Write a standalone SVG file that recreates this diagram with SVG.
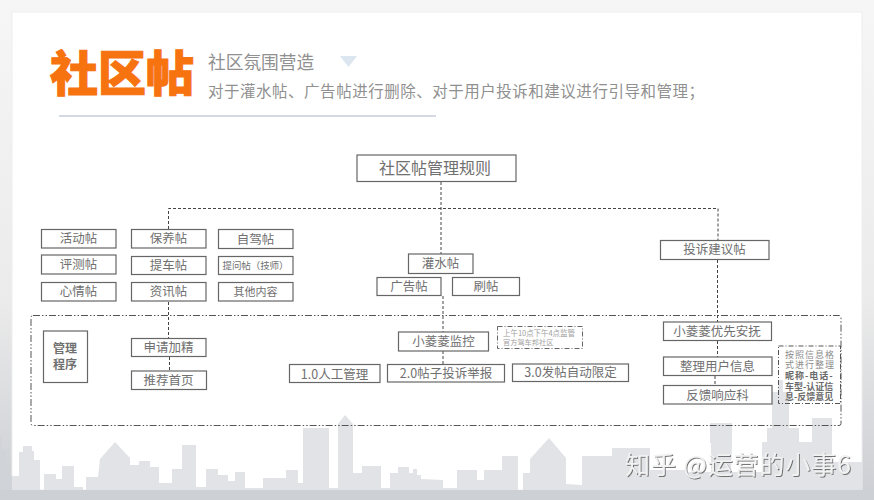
<svg xmlns="http://www.w3.org/2000/svg" width="874" height="500" viewBox="0 0 874 500">
<style>
text{font-family:"Noto Sans CJK SC","Noto Sans",sans-serif;fill:#707070;text-anchor:middle}
.b{fill:#fff;stroke:#666;stroke-width:1.2}
.t{font-size:12.5px}
.c{fill:none;stroke:#444;stroke-width:1;stroke-dasharray:3 2}
.f{fill:none;stroke:#555;stroke-width:1;stroke-dasharray:7 2 1.5 2 1.5 2}
.s{fill:#e1e3e6}
.l{text-anchor:start}
</style>
<defs>
<linearGradient id="bg" x1="0" y1="0" x2="0" y2="1"><stop offset="0" stop-color="#f6f6f6"/><stop offset="0.6" stop-color="#ebebeb"/><stop offset="1" stop-color="#ccced3"/></linearGradient>
<filter id="sh" x="-5%" y="-20%" width="110%" height="140%"><feDropShadow dx="1" dy="1" stdDeviation="0.5" flood-color="#555" flood-opacity="0.8"/></filter>
</defs>
<rect width="874" height="500" fill="url(#bg)"/>
<rect x="12" y="12" width="850" height="478" fill="#fff" stroke="#eee"/>
<g id="skyline">
<path class="s" d="M12 476L19 476 19 452 23 452 23 446 32 446 32 451 34 451 34 460 40 460 40 490 44 490 44 474 56 474 56 479 62 479 62 466 74 466 74 487 83 487 83 496 86 496 86 477 98 477 100 459 115 442 130 458 130 465 139 465 139 461 150 461 150 467 159 467 159 483 172 483 172 469 182 469 182 445 196 445 196 487 206 487 206 469 218 469 218 475 228 475 228 481 235 481 235 472 245 472 245 488 263 488 263 478 286 478 286 470 298 470 298 483 303 483 303 428 329 428 329 488 338 488 338 424 345 415 353 424 353 473 362 473 362 466 381 466 381 488 390 488 390 473 398 473 398 467 409 467 409 473 413 473 413 469 417 469 417 475 421 475 421 479 443 480 443 488 457 488 457 470 477 470 477 480 484 480 484 470 502 470 502 456 518 456 518 490 523 490 523 473 530 473 530 459 549 438 566 458 566 484 582 485 582 456 612 456 612 448 650 448 650 470 685 470 685 472 711 472 711 443 710 443 710 423 732 423 732 443 731 472 762 472 762 442 767 442 767 428 772 428 772 392 778 392 778 380 783 380 783 392 789 392 789 428 799 428 799 442 812 442 812 418 832 418 832 462 862 462 862 490 12 490Z"/>
<rect x="0" y="490" width="874" height="10" fill="#cdd0d5"/>
<path d="M0 436L2 436 2 450 6 450 6 476 12 476 12 490 0 490Z" fill="#d0d3d8"/>
</g>
<g id="header">
<text x="122" y="91" style="font-size:48px;font-weight:900;fill:#f6730f;stroke:#f6730f;stroke-width:1">社区帖</text>
<text class="l" x="208" y="69" style="font-size:17.7px;fill:#909090">社区氛围营造</text>
<path d="M340 56H357L348.500 67Z" fill="#dbe6f1"/>
<text class="l" x="208" y="97" textLength="496" style="font-size:15.500px;fill:#909090">对于灌水帖、广告帖进行删除、对于用户投诉和建议进行引导和管理；</text>
<path d="M59 116H436" stroke="#d5d9e4" stroke-width="2"/>
</g>
<rect class="f" x="31" y="315.500" width="810" height="110" rx="2"/>
<g id="connectors">
<path class="c" d="M441 182V254M168.500 229V208.500H718V240M443 296V332M443 351V364.500M168.500 302V338M169.500 357V371M717.500 260V322M717.500 341V357M715 376V385"/>
</g>
<g id="n-root"><rect class="b" x="357" y="155" width="159" height="26.500"/><text x="435" y="174" style="font-size:16px">社区帖管理规则</text></g>
<g id="n-huodong"><rect class="b" x="41.500" y="229.500" width="74.500" height="18.500"/><text class="t" x="78.500" y="243">活动帖</text></g>
<g id="n-baoyang"><rect class="b" x="131.500" y="229.500" width="74.500" height="18.500"/><text class="t" x="168.500" y="243">保养帖</text></g>
<g id="n-zijia"><rect class="b" x="218.500" y="229.500" width="74.500" height="19"/><text class="t" x="255.500" y="243.500">自驾帖</text></g>
<g id="n-pingce"><rect class="b" x="41.500" y="255" width="74.500" height="19"/><text class="t" x="78.500" y="268.500">评测帖</text></g>
<g id="n-tiche"><rect class="b" x="131.500" y="256.500" width="74.500" height="18"/><text class="t" x="168.500" y="270">提车帖</text></g>
<g id="n-tiwen"><rect class="b" x="218.500" y="256.500" width="74.500" height="18"/><text x="255.500" y="269" textLength="66" style="font-size:9.500px">提问帖（技师）</text></g>
<g id="n-xinqing"><rect class="b" x="41.500" y="282.500" width="74.500" height="18.500"/><text class="t" x="78.500" y="296">心情帖</text></g>
<g id="n-zixun"><rect class="b" x="131.500" y="282.500" width="74.500" height="18.500"/><text class="t" x="168.500" y="296">资讯帖</text></g>
<g id="n-qita"><rect class="b" x="218.500" y="282.500" width="74.500" height="18.500"/><text x="255.500" y="295.500" style="font-size:11px">其他内容</text></g>
<g id="n-guanshui"><rect class="b" x="408.500" y="254" width="64.500" height="19.500"/><text class="t" x="440.500" y="268">灌水帖</text></g>
<g id="n-guanggao"><rect class="b" x="377" y="277.500" width="64" height="18"/><text class="t" x="409" y="291">广告帖</text></g>
<g id="n-shua"><rect class="b" x="452.500" y="277.500" width="67" height="18"/><text class="t" x="486" y="291">刷帖</text></g>
<g id="n-tousu"><rect class="b" x="660.500" y="240.500" width="108.500" height="19"/><text class="t" x="714.500" y="254">投诉建议帖</text></g>
<g id="n-chengxu"><rect class="b" x="43.500" y="331" width="44" height="51.500"/><text x="65" y="353" style="font-size:12px;font-weight:700">管理</text><text x="65" y="369" style="font-size:12px;font-weight:700">程序</text></g>
<g id="n-shenqing"><rect class="b" x="131.500" y="338.500" width="74.500" height="18"/><text class="t" x="168.500" y="352">申请加精</text></g>
<g id="n-tuijian"><rect class="b" x="131.500" y="371" width="75" height="18.500"/><text class="t" x="168.500" y="385">推荐首页</text></g>
<g id="n-jiankong"><rect class="b" x="398.500" y="332" width="90" height="19"/><text class="t" x="443.500" y="346">小菱菱监控</text></g>
<g id="n-note1"><rect x="497.500" y="326.500" width="85" height="22" fill="#fff" stroke="#666" stroke-dasharray="5 2 1 2"/><text class="l" y="336" x="503" textLength="72" style="font-size:7.500px;fill:#a0a0a0">上午10点下午4点监管</text><text class="l" x="503" y="345" style="font-size:7.200px;fill:#a0a0a0">官方驾车邦社区</text></g>
<g id="n-rengong"><rect class="b" x="289.500" y="364.500" width="90.500" height="18"/><text class="t" x="334.500" y="378.500">1.0人工管理</text></g>
<g id="n-jubao"><rect class="b" x="387.500" y="364.500" width="117" height="17.500"/><text class="t" x="446" y="378">2.0帖子投诉举报</text></g>
<g id="n-zidong"><rect class="b" x="512.500" y="364" width="116" height="17.500"/><text class="t" x="570.500" y="377">3.0发帖自动限定</text></g>
<g id="n-anfu"><rect class="b" x="663.500" y="322" width="108" height="18.500"/><text class="t" x="717" y="335.500">小菱菱优先安抚</text></g>
<g id="n-zhengli"><rect class="b" x="663.500" y="357" width="108.500" height="18.500"/><text class="t" x="717.500" y="371">整理用户信息</text></g>
<g id="n-fankui"><rect class="b" x="663.500" y="385.500" width="108.500" height="18.500"/><text class="t" x="717.500" y="399.500">反馈响应科</text></g>
<g id="n-note2"><rect x="778.500" y="346" width="62" height="57.500" fill="none" stroke="#555" stroke-dasharray="5 2 1 2"/>
<text class="l" style="font-size:9px"><tspan x="785" y="357.500" style="letter-spacing:1px;fill:#8c8c8c">按照信息格</tspan><tspan x="785" y="367.500" style="letter-spacing:1px;fill:#8c8c8c">式进行整理</tspan><tspan x="785" y="379" style="letter-spacing:1px;font-weight:700;fill:#6a6a6a">昵称-电话-</tspan><tspan x="785" y="389.500" style="font-weight:700;fill:#6a6a6a">车型-认证信</tspan><tspan x="785" y="400" style="font-weight:700;fill:#6a6a6a">息-反馈意见</tspan></text></g>
<text x="738" y="474" textLength="226" filter="url(#sh)" style="font-size:25px;fill:#f2f2f2">知乎 @运营的小事6</text>
</svg>
